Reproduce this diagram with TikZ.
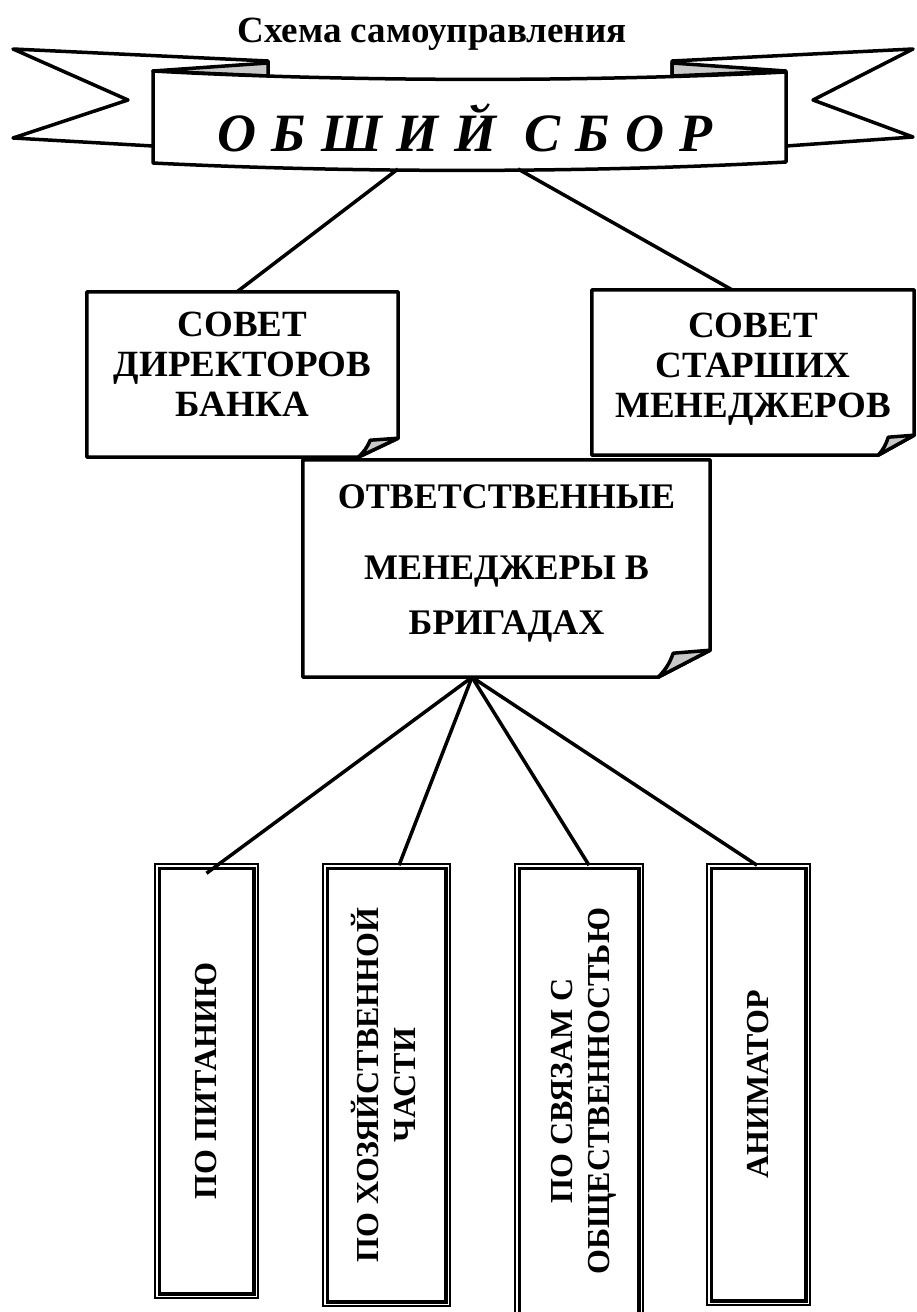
\documentclass[tikz,border=0pt]{standalone}
\usepackage{fontspec}
\setmainfont{Liberation Serif}
\newfontfamily\sborfont[LetterSpace=28]{Liberation Serif}
\usepackage{graphicx}
\usepackage{tikz}
\usetikzlibrary{calc}
\definecolor{foldgray}{RGB}{200,200,200}
\newcommand\lifted[2]{\raisebox{0pt}[\height][\dimexpr\depth+#1\relax]{#2}}
\tikzset{
	ln/.style={line width=3.5pt,line join=round},
	note/.style={inner sep=0pt,font=\fontsize{37}{40}\selectfont\bfseries},
	post/.style={draw,line width=1.5pt,inner sep=0pt,font=\fontsize{32}{37}\selectfont\bfseries}
}

\begin{document}
\begin{tikzpicture}[x=1pt,y=-1pt]
	\useasboundingbox (0,0) rectangle (916,1312);
	\node[font=\fontsize{37}{40}\selectfont\bfseries,anchor=base] (title) at (432,42) {Схема самоуправления};
	\draw[ln,fill=white] (13,49) -- (268,61) -- (268,146) -- (153,146) -- (13,138) -- (128,100) -- cycle;
	\draw[ln,fill=white] (913,49) -- (672,61) -- (672,146) -- (786,146) -- (913,137) -- (813,100) -- cycle;
	\draw[ln,fill=foldgray] (153,71) -- (268,63) -- (268,76) -- cycle;
	\draw[ln,fill=foldgray] (786,71) -- (672,63) -- (672,76) -- cycle;
	\draw[ln,fill=white] (153,71) .. controls (350,82) and (590,82) .. (786,72) -- (786,162) .. controls (590,173) and (350,173) .. (153,163) -- cycle;
	\node[anchor=base] (sbor) at (465,151) {\sborfont\fontsize{54}{58}\selectfont\bfseries\itshape ОБШИЙ СБОР};
	\coordinate (sbor-l) at (398,169);
	\coordinate (sbor-r) at (518,169);
	\node[note,minimum width=311pt,minimum height=165pt] (direktor) at (242.5,374.5) {\lifted{12pt}{\begin{tabular}{@{}c@{}}СОВЕТ\\ДИРЕКТОРОВ\\БАНКА\end{tabular}}};
	\node[note,minimum width=322pt,minimum height=165pt] (starsh) at (753,372.5) {\lifted{6pt}{\begin{tabular}{@{}c@{}}СОВЕТ\\СТАРШИХ\\МЕНЕДЖЕРОВ\end{tabular}}};
	\node[note,font=\fontsize{36}{40}\selectfont\bfseries,minimum width=407pt,minimum height=217pt] (otv) at (506.5,568.5) {\lifted{10pt}{\begin{tabular}{@{}c@{}}ОТВЕТСТВЕННЫЕ\\[31pt]МЕНЕДЖЕРЫ В\\[15pt]БРИГАДАХ\end{tabular}}};
	\foreach \n/\dx/\dy/\cx/\cy in {direktor/40/19/28/17,starsh/36/20/26/18,otv/52/27/37/24}{
		\draw[ln] (\n.north west) -- (\n.north east) -- ([yshift=\dy pt]\n.south east) -- ([xshift=-\dx pt]\n.south east) -- (\n.south west) -- cycle;
		\draw[ln,fill=foldgray] ([xshift=-\dx pt]\n.south east) to[bend right=12] ([shift={(-\cx pt,\cy pt)}]\n.south east) -- ([yshift=\dy pt]\n.south east) -- cycle;
	}
	\node[post,minimum width=103pt,minimum height=434pt] (pit) at (206.5,1081) {\rotatebox{90}{ПО ПИТАНИЮ}\hspace{8pt}};
	\node[post,minimum width=127pt,minimum height=442pt] (hoz) at (386.5,1085) {\hspace{4pt}\rotatebox{90}{\begin{tabular}{@{}c@{}}ПО ХОЗЯЙСТВЕННОЙ\\ЧАСТИ\end{tabular}}};
	\node[post,minimum width=128pt,minimum height=454pt] (svz) at (579,1091) {\hspace{10pt}\rotatebox{90}{\begin{tabular}{@{}c@{}}ПО СВЯЗАМ С\\ОБЩЕСТВЕННОСТЬЮ\end{tabular}}};
	\node[post,minimum width=103pt,minimum height=441pt] (anim) at (758.5,1084.5) {\rotatebox{90}{АНИМАТОР}\hspace{10pt}};
	\foreach \n in {pit,hoz,svz,anim}
		\draw[line width=3.5pt] ([shift={(5pt,-5pt)}]\n.north west) rectangle ([shift={(-5pt,5pt)}]\n.south east);
	\draw[ln] (sbor-l) -- ([xshift=-5.5pt]direktor.north);
	\draw[ln] (sbor-r) -- ([xshift=-21pt]starsh.north);
	\draw[ln] ([xshift=-34.5pt]otv.south) -- ([yshift=-10pt]pit.north);
	\draw[ln] ([xshift=-34.5pt]otv.south) -- ([xshift=12.5pt,yshift=-2pt]hoz.north);
	\draw[ln] ([xshift=-34.5pt]otv.south) -- ([xshift=10pt,yshift=-2pt]svz.north);
	\draw[ln] ([xshift=-34.5pt]otv.south) -- ([xshift=-1.5pt,yshift=-2pt]anim.north);
\end{tikzpicture}
\end{document}
